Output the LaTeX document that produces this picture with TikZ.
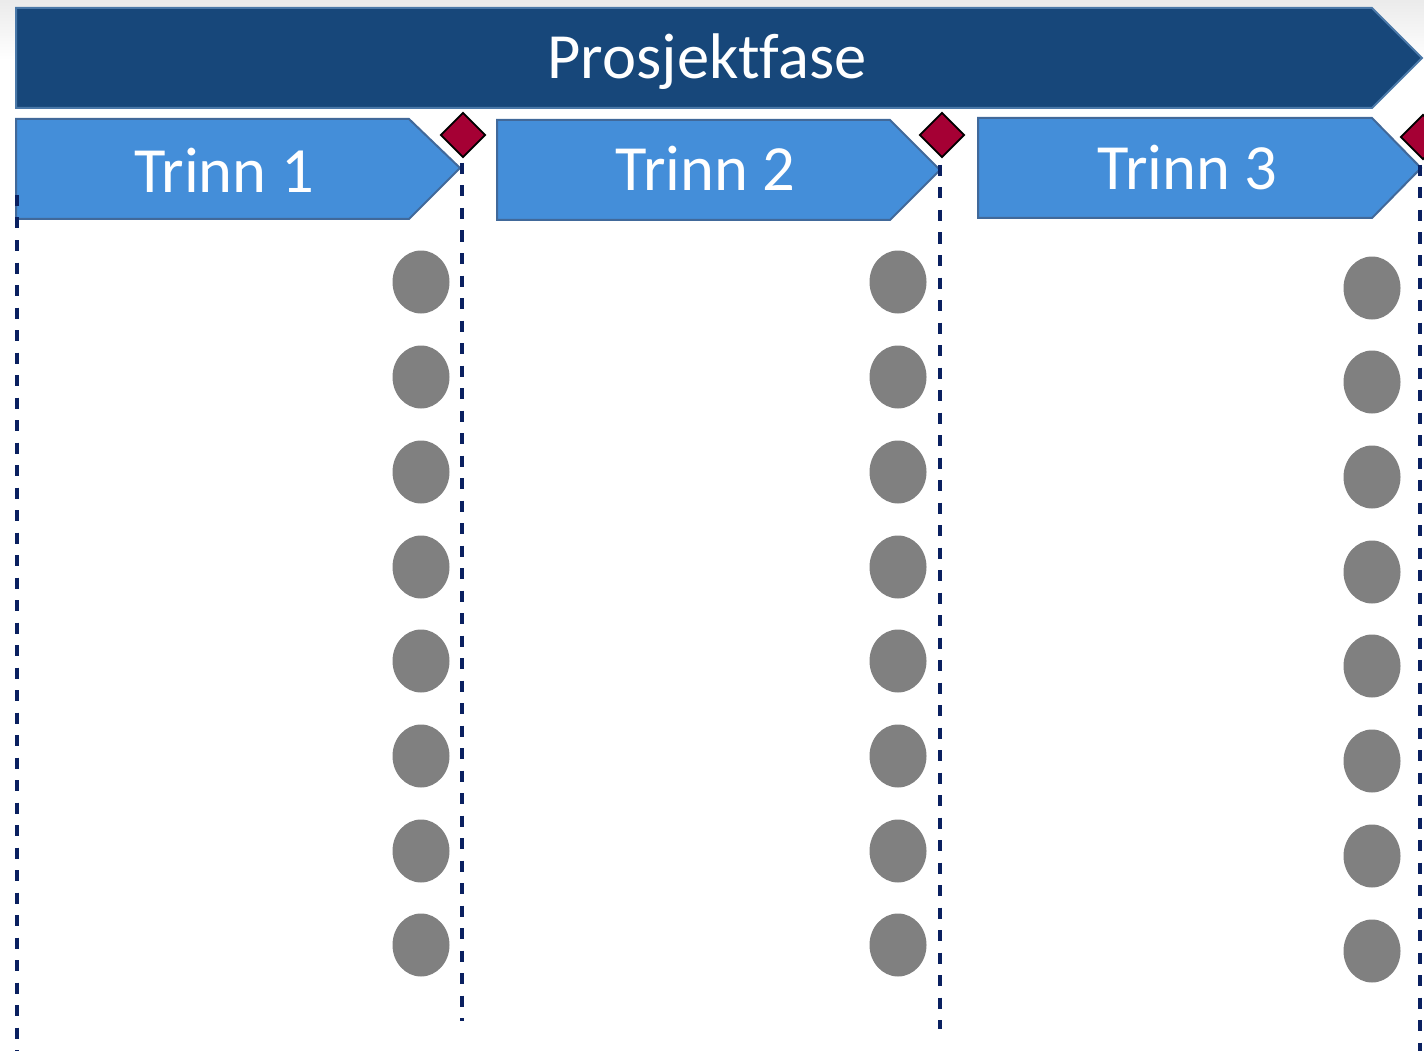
\documentclass[tikz,border=0pt]{standalone}
\usepackage{fontspec}
\setmainfont[Ligatures=NoCommon]{Carlito}
\usetikzlibrary{shapes.geometric}
\definecolor{phase}{HTML}{17477A}
\definecolor{phaseedge}{HTML}{4A78A8}
\definecolor{stage}{HTML}{448ED9}
\definecolor{stageedge}{HTML}{41699A}
\definecolor{gate}{HTML}{A50034}
\definecolor{dashc}{HTML}{0A2060}
\definecolor{dotc}{HTML}{808080}
\tikzset{
  phasebox/.style={fill=phase,draw=phaseedge,line width=2pt,line join=miter},
  stagebox/.style={fill=stage,draw=stageedge,line width=2pt,line join=miter},
  label/.style={text=white,inner sep=0pt,anchor=base,font=\fontsize{64.5}{64.5}\selectfont},
  gatemark/.style={diamond,fill=gate,draw=black,line width=1.8pt,minimum width=45pt,minimum height=45pt,inner sep=0pt,aspect=1},
  dot/.style={ellipse,fill=dotc,draw=none,minimum width=57pt,minimum height=63pt,inner sep=0pt},
  guide/.style={draw=dashc,line width=3.5pt,dash pattern=on 11pt off 11.5pt}
}
\begin{document}
\begin{tikzpicture}[x=1pt,y=-1pt]
\useasboundingbox (0,0) rectangle (1424,1051);
\shade[top color=black!8,bottom color=white] (0,0) rectangle (1424,60);
% phase
\draw[phasebox] (16,8) -- (1372,8) -- (1422,58) -- (1372,108) -- (16,108) -- cycle;
\node[label] (phase) at (707,79) {Prosjektfase};
% stages
\draw[stagebox] (16,119) -- (409,119) -- (460,168) -- (409,219) -- (16,219) -- cycle;
\node[label] (s1) at (224,193) {Trinn 1};
\draw[stagebox] (497,120) -- (890,120) -- (940,170) -- (890,220) -- (497,220) -- cycle;
\node[label] (s2) at (705.5,191) {Trinn 2};
\draw[stagebox] (978,118) -- (1372,118) -- (1421,168) -- (1372,218) -- (978,218) -- cycle;
\node[label] (s3) at (1187.5,190) {Trinn 3};
% guide lines
\coordinate (l0a) at (17,195); \coordinate (l0b) at (17,1051);
\coordinate (l1a) at (462,163); \coordinate (l1b) at (462,1021);
\coordinate (l2a) at (940,165); \coordinate (l2b) at (940,1029);
\coordinate (l3a) at (1420,165); \coordinate (l3b) at (1420,1051);
\draw[guide] (l0a) -- (l0b);
\draw[guide] (l1a) -- (l1b);
\draw[guide] (l2a) -- (l2b);
\draw[guide] (l3a) -- (l3b);
% gates
\node[gatemark] (g1) at (463,135) {};
\node[gatemark] (g2) at (942,135) {};
\node[gatemark] (g3) at (1423,137) {};
% dots
\foreach \i/\y in {1/282,2/377,3/472,4/567,5/661,6/756,7/851,8/945}{
  \node[dot] (a\i) at (421,\y) {};
  \node[dot] (b\i) at (898,\y) {};
}
\foreach \i/\y in {1/288,2/382,3/477,4/572,5/666,6/761,7/856,8/951}{
  \node[dot] (c\i) at (1372,\y) {};
}
\end{tikzpicture}
\end{document}
